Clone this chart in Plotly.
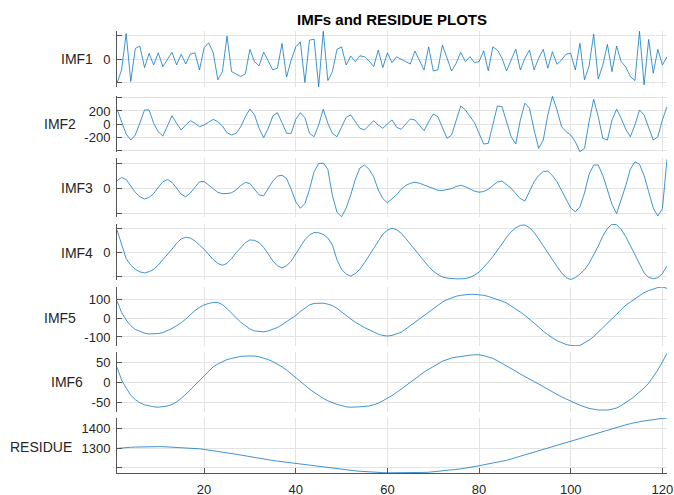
import plotly.graph_objects as go

# ---------------- data ----------------
x = list(range(1, 122))

imf1 = [-202, -92, 214, -189, 89, 108, -72, 47, -50, 52,
        -64, -2, 56, -50, 39, -42, 42, 52, -92, 94,
        136, 52, -175, -106, 192, -106, -125, -147, -125, 81,
        -22, -58, 58, -17, -92, -77, 131, -152, -8, 102,
        144, -197, 158, 167, -233, 233, -181, -106, 81, 102,
        -50, 25, -22, 27, 19, -17, -64, 75, -72, 52,
        -31, 19, 0, -21, -42, 67, -8, -92, 102, -100,
        -92, 117, 8, -100, -36, 56, -22, 19, -31, -22,
        69, -100, 102, 75, 6, -100, -8, 83, -92, 6,
        75, -92, 6, 81, -77, 61, -44, -8, 42, 47,
        -92, 131, -175, -58, 208, -167, -50, 122, -106, 108,
        -22, -67, -147, -181, 233, -217, 164, -119, 81, -50,
        19]

imf2 = [226, 31, -154, -246, -169, 15, 216, 216, 11, -119,
        -185, -31, 128, 11, -92, -15, 51, 11, -42, -15,
        31, 72, 35, -31, -134, -169, -143, -42, 112, 231,
        139, -66, -211, -66, 123, 174, 20, -143, -143, 72,
        174, 97, -143, -196, -15, 226, 11, -143, -196, -42,
        103, 139, 35, -66, -92, -15, 51, -15, -66, 0,
        62, -51, -82, 0, 77, 62, -15, -103, 35, 154,
        112, -66, -220, -169, 62, 277, 216, 112, 20, -143,
        -308, -297, 11, 277, 266, 35, -196, -308, 62, 319,
        242, -92, -374, -246, 139, 425, 216, -42, -119, -169,
        -273, -425, -374, 35, 380, 112, -220, -246, 62, 226,
        88, -82, -196, -15, 216, 139, -66, -246, -196, 62,
        266]

imf3 = [58, 84, 68, 20, -35, -70, -88, -75, -45, 5,
        50, 68, 45, 0, -50, -70, -40, 5, 50, 52,
        22, -10, -35, -45, -45, -38, -15, 20, 45, 35,
        -15, -55, -62, -5, 55, 95, 102, 75, -10, -110,
        -162, -125, -10, 130, 195, 200, 150, -60, -195, -230,
        -160, -55, 70, 160, 184, 150, 90, -15, -85, -118,
        -90, -55, -10, 20, 38, 46, 38, 24, 10, -5,
        -18, -20, -14, -5, 12, 22, 10, -10, -25, -34,
        -28, -10, 20, 48, 55, 30, -2, -45, -85, -104,
        -30, 50, 100, 132, 135, 100, 50, -20, -95, -160,
        -190, -150, -40, 110, 184, 184, 100, -10, -130, -205,
        -100, 20, 150, 210, 190, 100, -30, -160, -224, -165,
        230]

imf4 = [96, 30, -25, -52, -70, -81, -85, -80, -70, -52,
        -30, -10, 15, 40, 58, 65, 62, 50, 33, 15,
        -8, -29, -45, -53, -45, -25, 0, 22, 42, 54,
        52, 43, 22, -5, -35, -55, -64, -55, -35, -5,
        28, 55, 75, 85, 84, 77, 62, 32, -30, -70,
        -90, -99, -88, -70, -42, -12, 15, 45, 78, 95,
        103, 97, 82, 60, 35, 15, -10, -35, -58, -78,
        -92, -102, -107, -110, -110, -110, -109, -104, -95, -82,
        -62, -40, -17, 12, 40, 65, 88, 105, 115, 117,
        105, 86, 58, 28, 0, -28, -58, -85, -105, -113,
        -105, -90, -72, -45, -10, 28, 70, 102, 120, 118,
        98, 68, 30, -8, -48, -85, -104, -110, -105, -88,
        -55]

imf5 = [91, 30, -10, -40, -60, -72, -80, -84, -84, -82,
        -77, -68, -55, -40, -25, -5, 18, 40, 57, 70,
        78, 83, 83, 72, 50, 28, 2, -22, -42, -58,
        -68, -72, -73, -68, -60, -50, -35, -20, -3, 14,
        35, 55, 70, 78, 80, 79, 74, 66, 52, 32,
        12, -5, -22, -38, -50, -62, -75, -85, -92, -95,
        -92, -85, -75, -58, -40, -22, -5, 12, 30, 50,
        70, 85, 98, 108, 116, 121, 125, 126, 126, 124,
        121, 115, 108, 100, 90, 80, 65, 50, 32, 14,
        -5, -25, -47, -70, -90, -105, -120, -132, -140, -145,
        -147, -145, -132, -117, -98, -75, -50, -30, -5, 20,
        45, 68, 85, 102, 120, 135, 146, 155, 162, 165,
        158]

imf6 = [37, 5, -15, -33, -44, -52, -57, -60, -62, -63,
        -62, -60, -56, -50, -41, -31, -20, -8, 4, 15,
        27, 38, 45, 51, 56, 59, 62, 64, 65, 65,
        65, 63, 60, 56, 51, 45, 38, 30, 21, 12,
        2, -8, -18, -26, -34, -41, -47, -52, -56, -59,
        -62, -63, -63, -62, -61, -60, -57, -53, -47, -41,
        -34, -26, -18, -10, -2, 7, 16, 25, 32, 40,
        46, 52, 56, 60, 62, 64, 66, 67, 68, 68,
        66, 63, 59, 53, 47, 40, 34, 27, 20, 13,
        7, 1, -5, -12, -19, -25, -31, -37, -43, -48,
        -53, -58, -62, -66, -68, -70, -70, -70, -68, -65,
        -59, -52, -44, -35, -26, -15, -3, 12, 30, 50,
        72]

residue = [1299, 1302, 1304, 1305, 1306, 1307, 1308, 1308, 1308, 1308,
           1308, 1307, 1306, 1305, 1304, 1303, 1301, 1299, 1297, 1294,
           1291, 1287, 1283, 1280, 1276, 1272, 1269, 1265, 1261, 1256,
           1251, 1246, 1243, 1240, 1237, 1234, 1231, 1228, 1224, 1220,
           1217, 1214, 1211, 1209, 1206, 1204, 1201, 1199, 1196, 1193,
           1189, 1186, 1184, 1182, 1180, 1178, 1177, 1176, 1175, 1174,
           1174, 1173, 1173, 1173, 1174, 1174, 1175, 1176, 1177, 1179,
           1181, 1183, 1185, 1188, 1191, 1194, 1198, 1201, 1205, 1210,
           1215, 1219, 1224, 1229, 1234, 1238, 1245, 1252, 1260, 1267,
           1275, 1283, 1290, 1297, 1304, 1311, 1318, 1325, 1332, 1339,
           1346, 1353, 1359, 1366, 1373, 1380, 1387, 1394, 1401, 1408,
           1414, 1420, 1426, 1432, 1436, 1440, 1444, 1447, 1450, 1453,
           1455]

series = [imf1, imf2, imf3, imf4, imf5, imf6, residue]
names = ["IMF1", "IMF2", "IMF3", "IMF4", "IMF5", "IMF6", "RESIDUE"]

ytickvals = [[-200, 0, 200], [-400, -200, 0, 200, 400], [-200, 0, 200],
             [-100, 0, 100], [-100, 0, 100], [-50, 0, 50], [1200, 1300, 1400]]
yticktext = [["", "0", ""], ["", "-200", "0", "200", ""], ["", "0", ""],
             ["", "0", ""], ["-100", "0", "100"], ["-50", "0", "50"],
             ["", "1300", "1400"]]
yranges = [[-235, 235], [-430, 430], [-232, 240], [-115, 121],
           [-148, 165], [-75, 75], [1173, 1455]]

xtickvals = [20, 40, 60, 80, 100, 120]
title_text = "IMFs and RESIDUE PLOTS"

# ---------------- layout geometry ----------------
W, H = 674, 495
ML, MR, MT, MB = 117, 7, 31, 22
PH = H - MT - MB
PW = W - ML - MR
panel_px = [(31, 87), (96, 152), (158, 217), (224, 280), (287, 346), (352, 412), (418, 473)]
label_px = [(95, 59), (78, 124), (95, 188), (95, 253), (78, 318), (85, 382), (74, 447)]

FONT = "Liberation Sans, Arial, Helvetica, sans-serif"
TXT = "#262626"
GRID = "#e3e3e3"
AXC = "#555555"
LINE = "#0072BD"

fig = go.Figure()
layout = dict(
    width=W, height=H,
    margin=dict(l=ML, r=MR, t=MT, b=MB, autoexpand=False),
    paper_bgcolor="white", plot_bgcolor="white",
    showlegend=False,
    font=dict(family=FONT, size=13, color=TXT),
    title=dict(text="<b>" + title_text + "</b>", x=(ML + PW / 2) / W, xanchor="center",
               y=1 - 20 / H, yanchor="middle", yref="container",
               font=dict(family=FONT, size=15, color="#000000")),
)

annotations = []
n = len(series)
for k in range(n):
    idx = "" if k == 0 else str(k + 1)
    xa, ya = "x" + idx, "y" + idx
    fig.add_trace(go.Scatter(x=x, y=series[k], mode="lines", xaxis=xa, yaxis=ya,
                             line=dict(color=LINE, width=0.75), hoverinfo="skip"))
    t, b = panel_px[k]
    dom = [(H - MB - b) / PH, (H - MB - t) / PH]
    last = (k == n - 1)
    layout["xaxis" + idx] = dict(
        domain=[0, 1], anchor=ya, range=[1, 121], automargin=False,
        tickvals=xtickvals, showgrid=True, gridcolor=GRID, gridwidth=1,
        showticklabels=last, showline=last, linecolor=AXC, linewidth=1,
        ticks="inside" if last else "", ticklen=5, tickcolor=AXC,
        ticklabelstandoff=4,
        zeroline=False, tickfont=dict(size=13, color=TXT),
        matches=None if k == 0 else "x",
    )
    layout["yaxis" + idx] = dict(
        domain=dom, anchor=xa, range=yranges[k], automargin=False,
        tickvals=ytickvals[k], ticktext=yticktext[k],
        showgrid=True, gridcolor=GRID, gridwidth=1,
        showline=True, linecolor=AXC, linewidth=1,
        ticks="inside", ticklen=5, tickcolor=AXC,
        ticklabelstandoff=3,
        zeroline=False, tickfont=dict(size=13, color=TXT),
    )
    lx, ly = label_px[k]
    annotations.append(dict(
        text=names[k], xref="paper", yref="paper",
        x=(lx - ML) / PW, y=(H - MB - ly) / PH,
        xanchor="right", yanchor="middle", showarrow=False,
        font=dict(family=FONT, size=14, color=TXT),
    ))

layout["annotations"] = annotations
fig.update_layout(**layout)
fig.write_html("out.html", config={"displayModeBar": False},
               post_script="document.body.style.margin='0px';")
